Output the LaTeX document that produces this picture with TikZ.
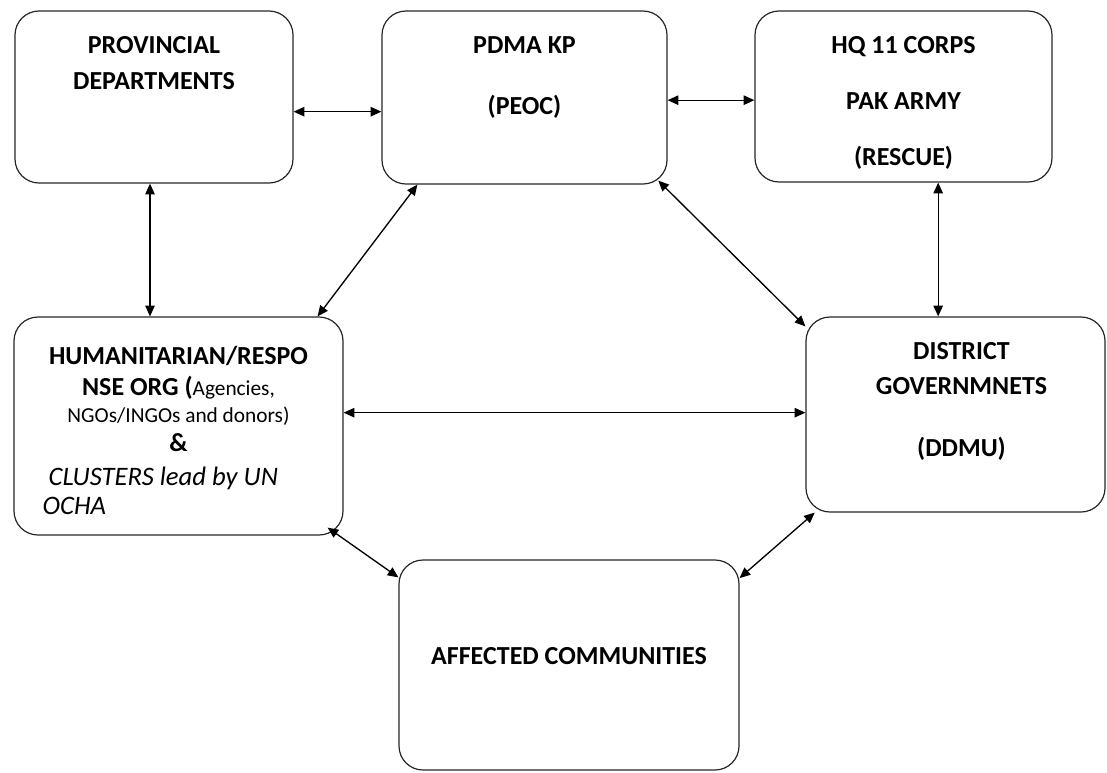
\documentclass[tikz,border=0pt]{standalone}
\usepackage{fontspec}
\setmainfont{Carlito}
\usetikzlibrary{positioning,arrows.meta}
\tikzset{
  box/.style={draw=black!85,line width=0.9pt,rounded corners=18pt,inner sep=0pt},
  boxtext/.style={inner sep=0pt,align=center,font=\bfseries\fontsize{19.5}{24}\selectfont},
  link/.style={{Triangle[length=8pt,width=7pt]}-{Triangle[length=8pt,width=7pt]},line width=1pt},
}
\newcommand{\smalltext}{\mdseries\fontsize{16}{19}\selectfont}
\begin{document}
\begin{tikzpicture}[x=0.75pt,y=-0.75pt]
  \useasboundingbox (0,0) rectangle (1107,772);
  % boxes
  \node[box,minimum width=208.5pt,minimum height=129pt] (prov) at (154,97) {};
  \node[box,minimum width=213.75pt,minimum height=129.75pt] (pdma) at (524.5,97.5) {};
  \node[box,minimum width=222.75pt,minimum height=128.25pt] (hq) at (903.5,96.5) {};
  \node[box,minimum width=246.75pt,minimum height=163.5pt] (hum) at (178.5,426) {};
  \node[box,minimum width=224.25pt,minimum height=146.25pt] (dist) at (955.5,414.5) {};
  \node[box,minimum width=255pt,minimum height=157.5pt] (aff) at (569,665) {};
  % texts
  \node[boxtext,below=19.5pt of prov.north] (provtext) {PROVINCIAL\\[3pt]DEPARTMENTS};
  \node[boxtext,below=19.5pt of pdma.north] (pdmatext) {PDMA KP\\[21.75pt](PEOC)};
  \node[boxtext,below=19.5pt of hq.north] (hqtext) {HQ 11 CORPS\\[18pt]PAK ARMY\\[18pt](RESCUE)};
  \node[boxtext,below=19.5pt of dist.north,xshift=4.5pt] (disttext) {DISTRICT\\[2.25pt]GOVERNMNETS\\[22.5pt](DDMU)};
  \node[boxtext,below=22pt of hum.north] (humtext) {HUMANITARIAN/RESPO\\[-0.75pt]NSE ORG ({\smalltext Agencies,}\\[-3.75pt]{\smalltext NGOs/INGOs and donors)}\\[-2.25pt]\&};
  \node[boxtext,align=left,font=\itshape\fontsize{20}{24}\selectfont,below right=113pt and 21.75pt of hum.north west] (clustertext) {\ CLUSTERS lead by UN\\[-2.25pt]OCHA};
  \node[boxtext] (afftext) at ([yshift=7pt]aff.center) {AFFECTED COMMUNITIES};
  % links
  \draw[link] ([yshift=-11pt]prov.east) -- ([yshift=-11pt]prov.east -| pdma.west);
  \draw[link] ([yshift=-2pt]pdma.east) -- ([yshift=-2pt]pdma.east -| hq.west);
  \draw[link] ([xshift=-3pt]prov.south) -- ([xshift=-3pt]prov.south |- hum.north);
  \draw[link] ([xshift=26pt]hq.south) -- ([xshift=26pt]hq.south |- dist.north);
  \draw[link] ([xshift=27pt]pdma.south west) -- ([xshift=-19.5pt]hum.north east);
  \draw[link] ([xshift=-7pt,yshift=3pt]pdma.south east) -- ([yshift=-7.5pt]dist.north west);
  \draw[link] ([yshift=10pt]hum.east) -- ([yshift=10pt]hum.east -| dist.west);
  \draw[link] ([xshift=-12pt,yshift=6pt]hum.south east) -- ([yshift=-13.5pt]aff.north west);
  \draw[link] ([xshift=7pt]dist.south west) -- ([yshift=-14pt]aff.north east);
\end{tikzpicture}
\end{document}
